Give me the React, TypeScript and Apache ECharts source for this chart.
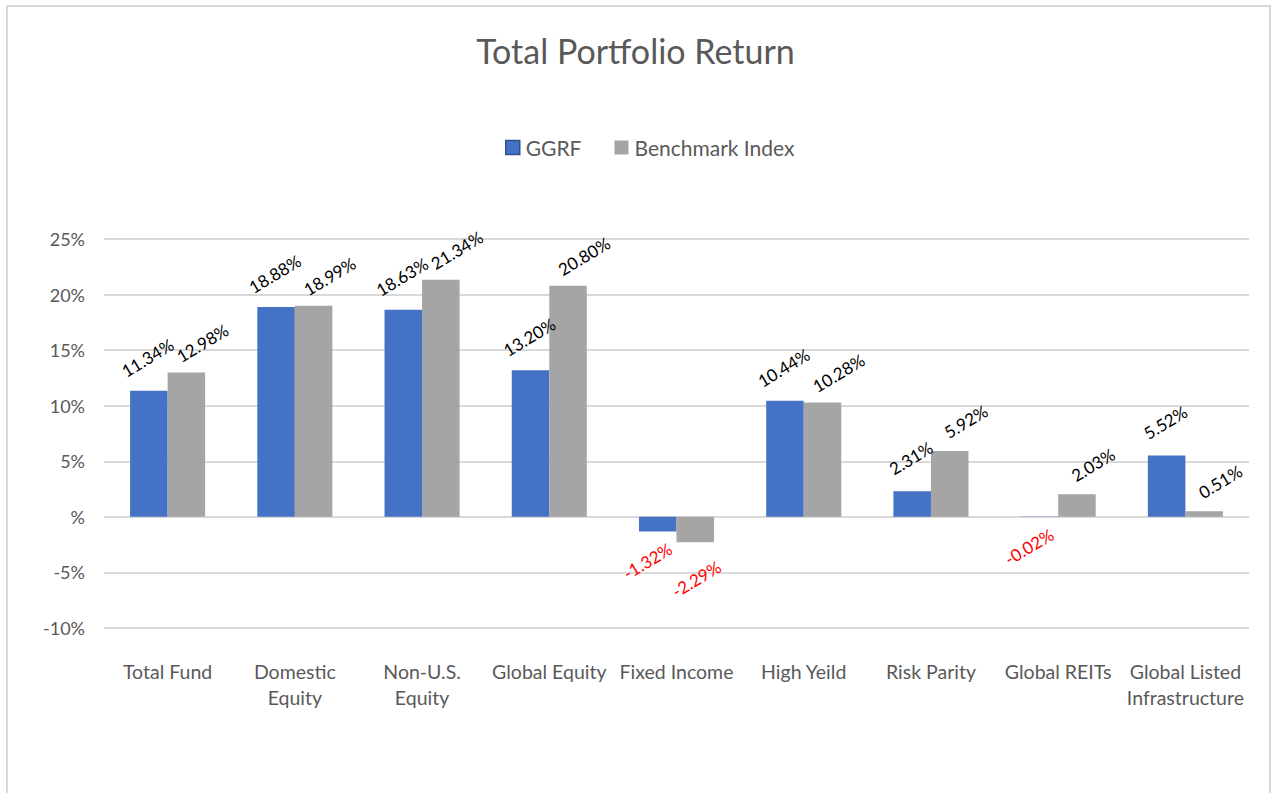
import React, { useEffect, useRef } from "react";
import * as echarts from "echarts";

const categories = [
  "Total Fund",
  "Domestic\nEquity",
  "Non-U.S.\nEquity",
  "Global Equity",
  "Fixed Income",
  "High Yeild",
  "Risk Parity",
  "Global REITs",
  "Global Listed\nInfrastructure",
];
const ggrf = [11.34, 18.88, 18.63, 13.2, -1.32, 10.44, 2.31, -0.02, 5.52];
const benchmark = [12.98, 18.99, 21.34, 20.8, -2.29, 10.28, 5.92, 2.03, 0.51];
const seriesNames = ["GGRF", "Benchmark Index"];
const yTicks = { min: -10, max: 25, interval: 5 };

const FONT = "Lato, 'Liberation Sans', sans-serif";
const GREY = "#595959";

function buildData(values: number[], negOffset: number[]) {
  return values.map((v) => {
    if (v < 0) {
      return {
        value: v,
        label: {
          position: "bottom",
          color: "#FF0000",
          offset: negOffset,
        },
      };
    }
    return { value: v };
  });
}

function makeLabel(offset: number[]) {
  return {
    show: true,
    position: "top",
    distance: 0,
    rotate: 31,
    align: "center",
    verticalAlign: "middle",
    offset,
    color: "#000000",
    fontFamily: FONT,
    fontSize: 17,
    formatter: (p: any) => p.value.toFixed(2) + "%",
  };
}

export default function App() {
  const ref = useRef<HTMLDivElement>(null);
  useEffect(() => {
    document.body.style.margin = "0";
    const chart = echarts.init(ref.current!, undefined, { renderer: "svg" });
    chart.setOption({
      animation: false,
      backgroundColor: "#ffffff",
      title: {
        text: "Total Portfolio Return",
        left: "center",
        top: 28,
        textStyle: { fontFamily: FONT, fontSize: 34, fontWeight: "normal", color: GREY },
      },
      legend: {
        data: [
          { name: seriesNames[0], itemStyle: { borderColor: "#2F528F", borderWidth: 1.5 } },
          seriesNames[1],
        ],
        left: 500,
        top: 132,
        itemWidth: 14,
        itemHeight: 14,
        itemGap: 33,
        icon: "rect",
        textStyle: { fontFamily: FONT, fontSize: 21, color: GREY, padding: [0, 0, 0, 1] },
      },
      graphic: [
        {
          type: "rect",
          shape: { x: 7, y: 6, width: 1263, height: 820 },
          style: { fill: "none", stroke: "#d9d9d9", lineWidth: 2 },
          silent: true,
        },
      ],
      grid: { left: 104, right: 22, top: 239, bottom: 165, containLabel: false },
      xAxis: {
        type: "category",
        data: categories,
        axisLine: { show: false, onZero: false },
        axisTick: { show: false },
        axisLabel: {
          interval: 0,
          margin: 30,
          color: GREY,
          fontFamily: FONT,
          fontSize: 19.5,
          lineHeight: 26,
        },
      },
      yAxis: {
        type: "value",
        min: yTicks.min,
        max: yTicks.max,
        interval: yTicks.interval,
        axisLine: { show: false },
        axisTick: { show: false },
        splitLine: { lineStyle: { color: "#d9d9d9", width: 2 } },
        axisLabel: {
          margin: 19,
          color: GREY,
          fontFamily: FONT,
          fontSize: 18,
          formatter: (v: number) => (v === 0 ? "%" : v + "%"),
        },
      },
      series: [
        {
          name: seriesNames[0],
          type: "bar",
          data: buildData(ggrf, [-24, 20]),
          barGap: "0%",
          barCategoryGap: "41%",
          itemStyle: { color: "#4472C4" },
          label: makeLabel([16, -29]),
        },
        {
          name: seriesNames[1],
          type: "bar",
          data: buildData(benchmark, [-18, 32]),
          barGap: "0%",
          barCategoryGap: "41%",
          itemStyle: { color: "#A5A5A5" },
          label: makeLabel([29, -17]),
        },
      ],
    });
    return () => chart.dispose();
  }, []);
  return <div ref={ref} style={{ width: 1271, height: 793 }} />;
}
